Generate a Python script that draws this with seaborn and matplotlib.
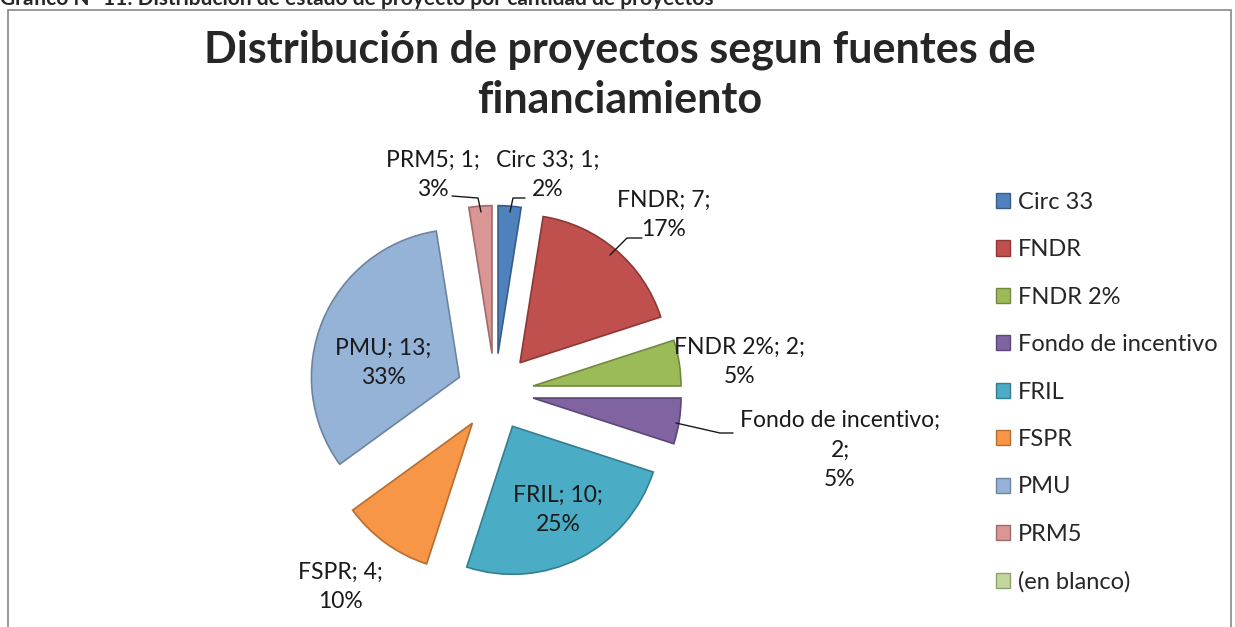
import matplotlib
matplotlib.use("Agg")
import matplotlib.pyplot as plt
import matplotlib.patches as mpatches
import seaborn as sns

# Datos del gráfico
fuentes = ['Circ 33', 'FNDR', 'FNDR 2%', 'Fondo de incentivo', 'FRIL',
           'FSPR', 'PMU', 'PRM5', '(en blanco)']
proyectos = [1, 7, 2, 2, 10, 4, 13, 1, 0]
porcentajes = ['2%', '17%', '5%', '5%', '25%', '10%', '33%', '3%', '']
colores = ['#4F81BD', '#C0504D', '#9BBB59', '#8064A2', '#4BACC6',
           '#F79646', '#95B3D7', '#D99694', '#C3D69B']
bordes = ['#385D8A', '#8C3836', '#71893F', '#5C4776', '#357D91',
          '#B66D31', '#6D84A0', '#A06B69', '#8FA070']

sns.set_theme(style="white")
plt.rcParams['font.family'] = ['Lato', 'DejaVu Sans']

W, H = 1235, 627
fig = plt.figure(figsize=(W / 100, H / 100), dpi=100)
ax = fig.add_axes([0, 0, 1, 1])

# pie center and radius in pixels
cx, cy, r = 495, 392, 148

def px(x, y):
    return ((x - cx) / r, (cy - y) / r)

idx = [i for i, v in enumerate(proyectos) if v > 0]
wedges, _ = ax.pie([proyectos[i] for i in idx],
                   colors=[colores[i] for i in idx],
                   startangle=90, counterclock=False,
                   explode=[0.26] * len(idx),
                   radius=1, center=(0, 0), frame=True)
ax.set_xlim(-cx / r, (W - cx) / r)
ax.set_ylim(-(H - cy) / r, cy / r)
ax.set_aspect('auto')
ax.axis('off')
for w, i in zip(wedges, idx):
    w.set_edgecolor(bordes[i])
    w.set_linewidth(1.2)

# data labels (position per category, pixels)
lab_pos = {
    'Circ 33': (548, 175),
    'FNDR': (664, 215),
    'FNDR 2%': (740, 362),
    'Fondo de incentivo': (840, 450),
    'FRIL': (558, 510),
    'FSPR': (340, 587),
    'PMU': (383, 363),
    'PRM5': (433, 175),
}
for i in idx:
    name = fuentes[i]
    if name == 'Fondo de incentivo':
        txt = f'{name};\n{proyectos[i]};\n{porcentajes[i]}'
    else:
        txt = f'{name}; {proyectos[i]};\n{porcentajes[i]}'
    ax.text(*px(*lab_pos[name]), txt, ha='center', va='center',
            fontsize=16.5, color='#1a1a1a', linespacing=1.5)

# leader lines
leaders = [
    [(510, 212), (513, 198), (525, 198)],
    [(452, 196), (478, 198), (481, 212)],
    [(642, 238), (627, 238), (610, 255)],
    [(676, 423), (720, 433), (733, 433)],
]
for pts in leaders:
    xs, ys = zip(*[px(x, y) for x, y in pts])
    ax.plot(xs, ys, color='#1a1a1a', lw=1)

# title
fig.text(620 / W, 1 - 50 / H, 'Distribución de proyectos segun fuentes de',
         ha='center', va='center', fontsize=31, fontweight='bold')
fig.text(620 / W, 1 - 100 / H, 'financiamiento',
         ha='center', va='center', fontsize=31, fontweight='bold')

# cut caption above the chart box
fig.text(0.0, 1 - 5 / H,
         'Gráfico Nº 11: Distribución de estado de proyecto por cantidad de proyectos',
         ha='left', va='baseline', fontsize=15, fontweight='bold')

# chart border
fig.patches.append(mpatches.Rectangle((8 / W, -0.01), (W - 12) / W, 1 - 10 / H + 0.01,
                                      transform=fig.transFigure, fill=False,
                                      edgecolor='#878787', lw=1.2))

# legend
handles = [mpatches.Patch(facecolor=colores[i], edgecolor=bordes[i])
           for i in range(len(fuentes))]
fig.legend(handles, fuentes, loc='upper left',
           bbox_to_anchor=(984 / W, 1 - 180 / H), frameon=False,
           fontsize=17, handlelength=0.62, handleheight=0.62,
           handletextpad=0.3, labelspacing=1.12, borderpad=0)

fig.savefig('out.png', dpi=100)
